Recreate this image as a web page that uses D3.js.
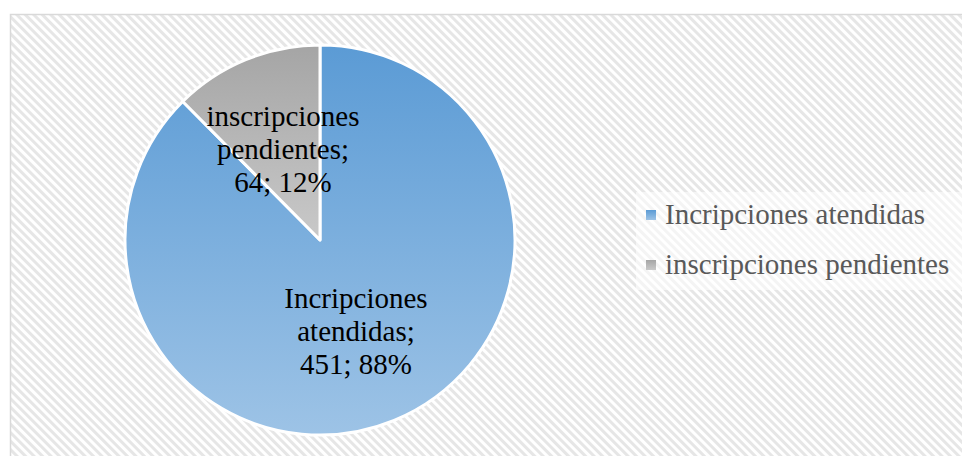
<!DOCTYPE html>
<html><head><meta charset="utf-8">
<script src="https://cdn.jsdelivr.net/npm/d3@7"></script>
<style>html,body{margin:0;padding:0;background:#fff;}</style>
</head><body>
<svg id="c" width="962" height="456"></svg>
<script>
const categories = ["Incripciones atendidas", "inscripciones pendientes"];
const values = [451, 64];
const percentLabels = ["88%", "12%"];
const labelLines = [["Incripciones", "atendidas;", "451; 88%"], ["inscripciones", "pendientes;", "64; 12%"]];
const colorsTop = ["#5b9bd5", "#a5a5a5"];
const colorsBottom = ["#9dc3e6", "#c9c9c9"];
const FONT = '"Liberation Serif"';

const svg = d3.select("#c");
const defs = svg.append("defs");
const pat = defs.append("pattern").attr("id", "hatch").attr("patternUnits", "userSpaceOnUse")
  .attr("width", 6).attr("height", 6).attr("patternTransform", "rotate(-45)");
pat.append("rect").attr("width", 6).attr("height", 6).attr("fill", "#ffffff");
pat.append("rect").attr("width", 3).attr("height", 6).attr("fill", "#e6e6e6");

categories.forEach((c, i) => {
  const g = defs.append("linearGradient").attr("id", "g" + i).attr("x1", 0).attr("y1", 0).attr("x2", 0).attr("y2", 1);
  g.append("stop").attr("offset", "0%").attr("stop-color", colorsTop[i]);
  g.append("stop").attr("offset", "100%").attr("stop-color", colorsBottom[i]);
});

svg.append("rect").attr("x", 10.5).attr("y", 14.5).attr("width", 960).attr("height", 450)
  .attr("fill", "url(#hatch)").attr("stroke", "#d9d9d9").attr("stroke-width", 1.5);

const cx = 320, cy = 240, r = 195;
const pie = d3.pie().sort(null).value(d => d)(values);
const arc = d3.arc().innerRadius(0).outerRadius(r);
const g = svg.append("g").attr("transform", `translate(${cx},${cy})`);
g.selectAll("path").data(pie).join("path")
  .attr("d", arc).attr("fill", (d, i) => `url(#g${i})`)
  .attr("stroke", "#ffffff").attr("stroke-width", 3).attr("stroke-linejoin", "round");

const labelPos = [[356, 341], [283, 159]];
const lh = 33;
labelLines.forEach((lines, i) => {
  const t = g.append("text").attr("text-anchor", "middle")
    .style("font-family", FONT).style("font-size", "29px").attr("fill", "#000");
  lines.forEach((ln, j) => {
    t.append("tspan").attr("x", labelPos[i][0] - cx)
      .attr("y", labelPos[i][1] - cy + (j - 1) * lh).text(ln);
  });
});

// legend
const lg = svg.append("g");
lg.append("rect").attr("x", 636).attr("y", 192).attr("width", 326).attr("height", 98)
  .attr("fill", "#ffffff").attr("opacity", 0.55);
const ly = d3.scaleBand().domain(categories).range([190, 290]).padding(0);
categories.forEach((c, i) => {
  const y = ly(c) + ly.bandwidth() / 2;
  lg.append("rect").attr("x", 646).attr("y", y - 5).attr("width", 10).attr("height", 10)
    .attr("fill", `url(#g${i})`);
  lg.append("text").attr("x", 665).attr("y", y + 9)
    .style("font-family", FONT).style("font-size", "29px").attr("fill", "#595959").text(c);
});
</script>
</body></html>
